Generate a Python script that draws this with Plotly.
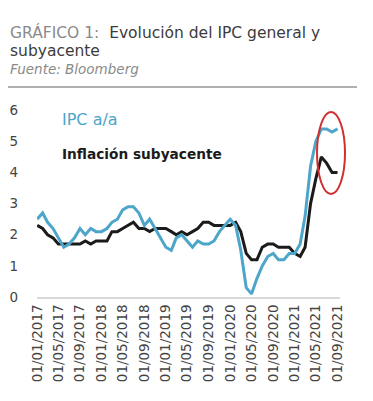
import plotly.graph_objects as go
import pandas as pd

dates = pd.date_range("2017-01-01", "2021-09-01", freq="MS")

ipc_aa = [2.5, 2.7, 2.4, 2.2, 1.9, 1.6, 1.7, 1.9, 2.2, 2.0, 2.2, 2.1,
          2.1, 2.2, 2.4, 2.5, 2.8, 2.9, 2.9, 2.7, 2.3, 2.5, 2.2, 1.9,
          1.6, 1.5, 1.9, 2.0, 1.8, 1.6, 1.8, 1.7, 1.7, 1.8, 2.1, 2.3,
          2.5, 2.3, 1.5, 0.3, 0.1, 0.6, 1.0, 1.3, 1.4, 1.2, 1.2, 1.4,
          1.4, 1.7, 2.6, 4.2, 5.0, 5.4, 5.4, 5.3, 5.4]

subyacente = [2.3, 2.2, 2.0, 1.9, 1.7, 1.7, 1.7, 1.7, 1.7, 1.8, 1.7, 1.8,
              1.8, 1.8, 2.1, 2.1, 2.2, 2.3, 2.4, 2.2, 2.2, 2.1, 2.2, 2.2,
              2.2, 2.1, 2.0, 2.1, 2.0, 2.1, 2.2, 2.4, 2.4, 2.3, 2.3, 2.3,
              2.3, 2.4, 2.1, 1.4, 1.2, 1.2, 1.6, 1.7, 1.7, 1.6, 1.6, 1.6,
              1.4, 1.3, 1.6, 3.0, 3.8, 4.5, 4.3, 4.0, 4.0]

tick_dates = pd.date_range("2017-01-01", "2021-09-01", freq="4MS")
tick_labels = [d.strftime("%d/%m/%Y") for d in tick_dates]
y_ticks = [0, 1, 2, 3, 4, 5, 6]

BLUE = "#4DA6CA"
BLACK = "#1b1b1b"

fig = go.Figure()
fig.add_trace(go.Scatter(x=dates, y=subyacente, mode="lines",
                         line=dict(color=BLACK, width=3), showlegend=False))
fig.add_trace(go.Scatter(x=dates, y=ipc_aa, mode="lines",
                         line=dict(color=BLUE, width=3), showlegend=False))

# page body has an 8px margin: figure is drawn 8px smaller and offset
OFF = 8
W, H = 373 - OFF, 401 - OFF
# target pixel positions in the window
L_px, R_px, T_px, B_px = 37, 340, 104, 297
L, R, T, B = L_px - OFF, 373 - R_px, T_px - OFF, 401 - B_px
ph = B_px - T_px
pw = R_px - L_px

def py(p):
    return (B_px - p) / ph

def px(p):
    return (p - L_px) / pw

fig.update_layout(
    width=W, height=H,
    margin=dict(l=L, r=R, t=T, b=B, autoexpand=False),
    paper_bgcolor="white", plot_bgcolor="white",
    font=dict(family="DejaVu Sans", color="#444"),
    xaxis=dict(range=["2016-12-31", "2021-09-15"], tickvals=tick_dates,
               ticktext=tick_labels, tickangle=-90, showgrid=False,
               showline=True, linecolor="#d9d9d9", linewidth=2, automargin=False,
               tickfont=dict(size=13.5, color="#444"), ticks="", zeroline=False),
    yaxis=dict(range=[0, 6.2], tickvals=y_ticks, showgrid=False, zeroline=False,
               showline=False, ticks="", automargin=False,
               tickfont=dict(size=13.5, color="#444"),
               ticklabelstandoff=18),
)

TX = 8
annotations = [
    dict(text="<span style='color:#8a8a8a'>GRÁFICO 1:</span>  <span style='color:#3c3c3c'>Evolución del IPC general y</span>",
         x=px(TX), y=py(32), xref="paper", yref="paper", xanchor="left", yanchor="middle",
         showarrow=False, font=dict(family="DejaVu Sans", size=15.5, color="#3c3c3c")),
    dict(text="subyacente",
         x=px(TX), y=py(51), xref="paper", yref="paper", xanchor="left", yanchor="middle",
         showarrow=False, font=dict(family="DejaVu Sans", size=15.5, color="#3c3c3c")),
    dict(text="<i>Fuente: Bloomberg</i>",
         x=px(TX), y=py(69), xref="paper", yref="paper", xanchor="left", yanchor="middle",
         showarrow=False, font=dict(family="DejaVu Sans", size=13.5, color="#8a8a8a")),
    dict(text="IPC a/a", x=px(60), y=py(119), xref="paper", yref="paper",
         xanchor="left", yanchor="middle", showarrow=False,
         font=dict(family="DejaVu Sans", size=16, color=BLUE)),
    dict(text="<b>Inflación subyacente</b>", x=px(60), y=py(154), xref="paper", yref="paper",
         xanchor="left", yanchor="middle", showarrow=False,
         font=dict(family="DejaVu Sans", size=13.7, color=BLACK)),
]
fig.update_layout(annotations=annotations)

fig.add_shape(type="line", xref="paper", yref="paper",
              x0=px(8), x1=px(357), y0=py(87), y1=py(87),
              line=dict(color="#b0b0b0", width=2))
fig.add_shape(type="circle", xref="paper", yref="paper",
              x0=px(317), x1=px(345), y0=py(194), y1=py(112),
              line=dict(color="#d03030", width=2))

fig.write_html("out.html")
